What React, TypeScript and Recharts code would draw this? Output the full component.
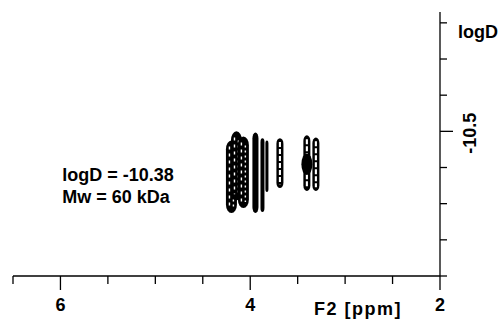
import React from 'react';
import { ComposedChart, XAxis, YAxis, ReferenceArea, ReferenceDot, Scatter } from 'recharts';

// axis ticks
const xTicks = [6.5, 6, 5.5, 5, 4.5, 4, 3.5, 3, 2.5, 2];
const xLabelTicks = [6, 4, 2];
const yTicks = [-10.8, -10.7, -10.6, -10.5, -10.4, -10.3, -10.2, -10.1];
const yLabelTicks = [-10.5];

// contour peaks with open interior: centre shift (ppm), half width (ppm), logD top / bottom
const hollowShift = [4.198, 4.145, 4.072, 3.687, 3.403, 3.308];
const hollowHalfWidth = [0.058, 0.058, 0.058, 0.037, 0.037, 0.037];
const hollowLogDTop = [-10.475, -10.5, -10.486, -10.481, -10.489, -10.483];
const hollowLogDBottom = [-10.274, -10.309, -10.288, -10.343, -10.335, -10.335];

// solid contour peaks
const solidShift = [3.945, 3.871, 3.824, 3.403];
const solidHalfWidth = [0.032, 0.021, 0.016, 0.058];
const solidLogDTop = [-10.497, -10.481, -10.475, -10.439];
const solidLogDBottom = [-10.274, -10.277, -10.332, -10.379];

// annotation
const annotationLines = ['logD = -10.38', 'Mw = 60 kDa'];
const annotationShift = 5.98;
const annotationLogD = -10.362;

const FONT = '"Liberation Sans", Arial, sans-serif';

const centers = [
  ...hollowShift.map((s, i) => ({ x: s, y: (hollowLogDTop[i] + hollowLogDBottom[i]) / 2 })),
  ...solidShift.map((s, i) => ({ x: s, y: (solidLogDTop[i] + solidLogDBottom[i]) / 2 })),
];

const norm = (p: any) => {
  const x = Math.min(p.x, p.x + p.width);
  const y = Math.min(p.y, p.y + p.height);
  return { x, y, w: Math.abs(p.width), h: Math.abs(p.height) };
};

const HollowContour = (p: any) => {
  const { x, y, w, h } = norm(p);
  const r = w / 2;
  const cx = x + w / 2;
  const wide = w >= 9;
  const offsets = wide ? [-w * 0.18, w * 0.18] : [0];
  return (
    <g>
      <rect x={x} y={y} width={w} height={h} rx={r} ry={Math.min(r * 1.6, h / 2)} fill="#000" />
      {offsets.map((o, k) => (
        <line
          key={k}
          x1={cx + o}
          x2={cx + o}
          y1={y + r * 1.1}
          y2={y + h - r * 1.1}
          stroke="#fff"
          strokeWidth={wide ? 1.4 : Math.max(1.3, w * 0.3)}
          strokeDasharray={wide ? (k === 0 ? '3 4' : '2 3') : '5 2'}
          strokeDashoffset={k * 2}
        />
      ))}
    </g>
  );
};

const SolidContour = (p: any) => {
  const { x, y, w, h } = norm(p);
  const r = w / 2;
  return <rect x={x} y={y} width={w} height={h} rx={r} ry={Math.min(r * 2, h / 2)} fill="#000" />;
};

const XTick = (props: any) => {
  const { x, y, payload } = props;
  const v = payload.value;
  const major = xLabelTicks.includes(v);
  return (
    <g>
      <line x1={x} x2={x} y1={y} y2={y + (major ? 14 : 8)} stroke="#000" strokeWidth={1.3} />
      {major && (
        <text x={x} y={y + 35} textAnchor="middle" fontFamily={FONT} fontWeight="bold" fontSize={18} fill="#000">
          {v}
        </text>
      )}
    </g>
  );
};

const YTick = (props: any) => {
  const { x, y, payload } = props;
  const v = payload.value;
  const major = yLabelTicks.some((t) => Math.abs(t - v) < 1e-6);
  return (
    <g>
      <line x1={x} x2={x + (major ? 13 : 7)} y1={y} y2={y} stroke="#000" strokeWidth={1.3} />
      {major && (
        <text
          x={0}
          y={0}
          transform={`translate(${x + 30},${y + 2}) rotate(-90)`}
          textAnchor="middle"
          dominantBaseline="central"
          fontFamily={FONT}
          fontWeight="bold"
          fontSize={18}
          fill="#000"
        >
          {v}
        </text>
      )}
    </g>
  );
};

const XLabel = (props: any) => {
  const vb = props.viewBox;
  return (
    <text x={vb.x + vb.width - 126} y={vb.y + 39} fontFamily={FONT} fontWeight="bold" fontSize={18} letterSpacing={1.5} fill="#000">
      F2 [ppm]
    </text>
  );
};

const YLabel = (props: any) => {
  const vb = props.viewBox;
  return (
    <text x={vb.x + 18} y={vb.y + 26} fontFamily={FONT} fontWeight="bold" fontSize={18} fill="#000">
      logD
    </text>
  );
};

const Annotation = (p: any) => (
  <text x={p.cx} y={p.cy} fontFamily={FONT} fontWeight="bold" fontSize={18} fill="#000">
    {annotationLines.map((t, i) => (
      <tspan key={i} x={p.cx} dy={i === 0 ? 0 : 22}>
        {t}
      </tspan>
    ))}
  </text>
);

export default function App() {
  return (
    <div style={{ position: 'absolute', left: 0, top: 0, width: 504, height: 321, background: '#fff' }}>
      <ComposedChart width={504} height={321} margin={{ top: 12, right: 24, bottom: 15, left: 13 }}>
        <XAxis
          type="number"
          dataKey="x"
          domain={[2, 6.5]}
          reversed
          ticks={xTicks}
          interval={0}
          tickSize={0}
          tickMargin={0}
          tickLine={false}
          axisLine={{ stroke: '#000', strokeWidth: 1.3 }}
          tick={<XTick />}
          height={30}
          allowDataOverflow
          label={{ content: (p: any) => <XLabel {...p} /> }}
        />
        <YAxis
          type="number"
          dataKey="y"
          orientation="right"
          domain={[-10.83, -10.1]}
          reversed
          ticks={yTicks}
          interval={0}
          tickSize={0}
          tickMargin={0}
          tickLine={false}
          axisLine={{ stroke: '#000', strokeWidth: 1.3 }}
          tick={<YTick />}
          width={40}
          allowDataOverflow
          label={{ content: (p: any) => <YLabel {...p} /> }}
        />
        <Scatter data={centers} fill="none" shape={() => <g />} isAnimationActive={false} />
        {hollowShift.map((s, i) => (
          <ReferenceArea
            key={'h' + i}
            x1={s + hollowHalfWidth[i]}
            x2={s - hollowHalfWidth[i]}
            y1={hollowLogDTop[i]}
            y2={hollowLogDBottom[i]}
            shape={(p: any) => <HollowContour {...p} />}
            ifOverflow="visible"
          />
        ))}
        {solidShift.map((s, i) => (
          <ReferenceArea
            key={'s' + i}
            x1={s + solidHalfWidth[i]}
            x2={s - solidHalfWidth[i]}
            y1={solidLogDTop[i]}
            y2={solidLogDBottom[i]}
            shape={(p: any) => <SolidContour {...p} />}
            ifOverflow="visible"
          />
        ))}
        <ReferenceDot
          x={annotationShift}
          y={annotationLogD}
          r={0}
          ifOverflow="visible"
          shape={(p: any) => <Annotation {...p} />}
        />
      </ComposedChart>
    </div>
  );
}
